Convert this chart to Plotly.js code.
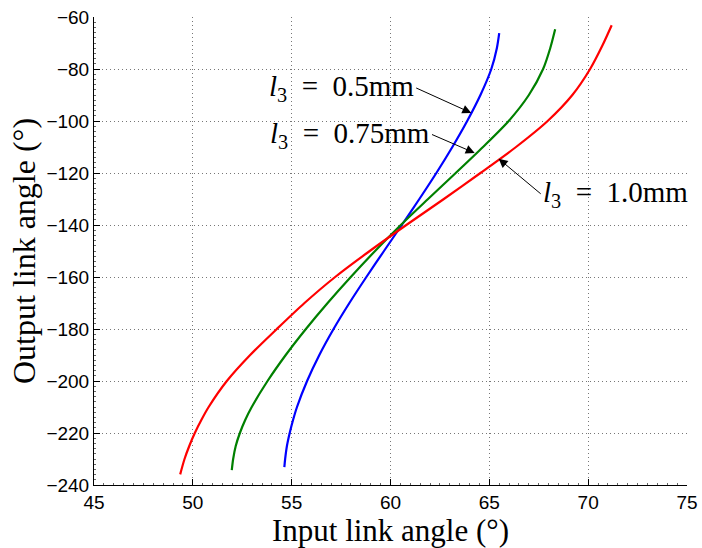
<!DOCTYPE html>
<html>
<head>
<meta charset="utf-8">
<script src="https://cdn.plot.ly/plotly-3.0.1.min.js"></script>
<style>html,body{margin:0;padding:0;background:#fff;}#chart{width:702px;height:548px;}</style>
</head>
<body>
<div id="chart"></div>
<script>
// l3 = 0.5 mm (blue)
const xBlue = [54.63, 54.67, 54.76, 54.9, 55.07, 55.27, 55.78, 56.4, 57.12, 57.92, 58.78, 59.67, 60.57, 61.46, 62.32, 63.13, 63.88, 64.55, 65.1, 65.38, 65.5];
const yBlue = [-233.1, -230, -225, -220, -215, -210, -200, -190, -180, -170, -160, -150, -140, -130, -120, -110, -100, -90, -80, -72, -66.2];
// l3 = 0.75 mm (green)
const xGreen = [51.97, 52.04, 52.17, 52.38, 52.65, 52.98, 53.78, 54.7, 55.72, 56.82, 57.99, 59.22, 60.52, 61.9, 63.3, 64.68, 65.98, 67.0, 67.72, 68.08, 68.33];
const yGreen = [-234.3, -230, -225, -220, -215, -210, -200, -190, -180, -170, -160, -150, -140, -130, -120, -110, -100, -90, -80, -72, -64.7];
// l3 = 1.0 mm (red)
const xRed = [49.36, 49.58, 49.82, 50.1, 50.43, 50.8, 51.72, 52.9, 54.25, 55.65, 57.2, 58.95, 60.8, 62.7, 64.55, 66.35, 67.95, 69.2, 70.1, 70.72, 71.19];
const yRed = [-235.9, -230, -225, -220, -215, -210, -200, -190, -180, -170, -160, -150, -140, -130, -120, -110, -100, -90, -80, -71, -63.2];

const seriesNames = ['l3 = 0.5mm', 'l3 = 0.75mm', 'l3 = 1.0mm'];
const labelTexts = ['<i>l</i><sub>3</sub>\u2002=\u20020.5mm', '<i>l</i><sub>3</sub>\u2002=\u20020.75mm', '<i>l</i><sub>3</sub>\u2002=\u20021.0mm'];
const xTickVals = [45, 50, 55, 60, 65, 70, 75];
const yTickVals = [-240, -220, -200, -180, -160, -140, -120, -100, -80, -60];

const serif = 'Liberation Serif, DejaVu Serif, serif';
const sans = 'Liberation Sans, Arial, sans-serif';

const mk = (x, y, c, n) => ({x, y, name: n, type: 'scatter', mode: 'lines', line: {color: c, width: 2.2, shape: 'spline', smoothing: 0.8}, showlegend: false});
const traces = [
  mk(xBlue, yBlue, '#0000ff', seriesNames[0]),
  mk(xGreen, yGreen, '#008000', seriesNames[1]),
  mk(xRed, yRed, '#ff0000', seriesNames[2])
];

const callout = (hx, hy, tx, ty, t, anchor) => ({x: hx, y: hy, ax: tx, ay: ty, xref: 'x', yref: 'y', axref: 'x', ayref: 'y',
  text: t, xanchor: anchor, yanchor: 'middle', showarrow: true, arrowhead: 2, arrowsize: 1.8, arrowwidth: 1, arrowcolor: '#000',
  font: {family: serif, size: 29, color: '#000'}});

const grid = {showgrid: true, gridcolor: '#777', griddash: '1px,3px', gridwidth: 1, zeroline: false};

const layout = {
  width: 702, height: 548,
  margin: {l: 94, r: 15, t: 17, b: 63},
  paper_bgcolor: '#fff', plot_bgcolor: '#fff',
  xaxis: Object.assign({
    range: [45, 75], tickvals: xTickVals, ticktext: xTickVals.map(String),
    showline: true, linecolor: '#000', linewidth: 1, ticks: 'inside', ticklen: 6, tickcolor: '#000',
    tickfont: {family: sans, size: 19, color: '#000'},
    minor: {dtick: 0.5, ticks: 'inside', ticklen: 2, tickcolor: '#666', showgrid: false},
    title: {text: 'Input link angle (°)', font: {family: serif, size: 31, color: '#000'}, standoff: 1}
  }, grid),
  yaxis: Object.assign({
    range: [-240, -60], tickvals: yTickVals, ticktext: yTickVals.map(v => '\u2212' + Math.abs(v)),
    showline: true, linecolor: '#000', linewidth: 1, ticks: 'inside', ticklen: 6, tickcolor: '#000',
    tickfont: {family: sans, size: 19, color: '#000'},
    minor: {dtick: 2, ticks: 'inside', ticklen: 2, tickcolor: '#666', showgrid: false},
    title: {text: 'Output link angle (°)', font: {family: serif, size: 32, color: '#000'}, standoff: 1}
  }, grid),
  annotations: [
    callout(64.09, -96.9, 61.3, -87.3, labelTexts[0], 'right'),
    callout(64.26, -112.3, 62.1, -105.2, labelTexts[1], 'right'),
    callout(65.47, -114.5, 67.6, -128.0, labelTexts[2], 'left')
  ]
};

Plotly.newPlot('chart', traces, layout, {staticPlot: true, displayModeBar: false});
</script>
</body>
</html>
